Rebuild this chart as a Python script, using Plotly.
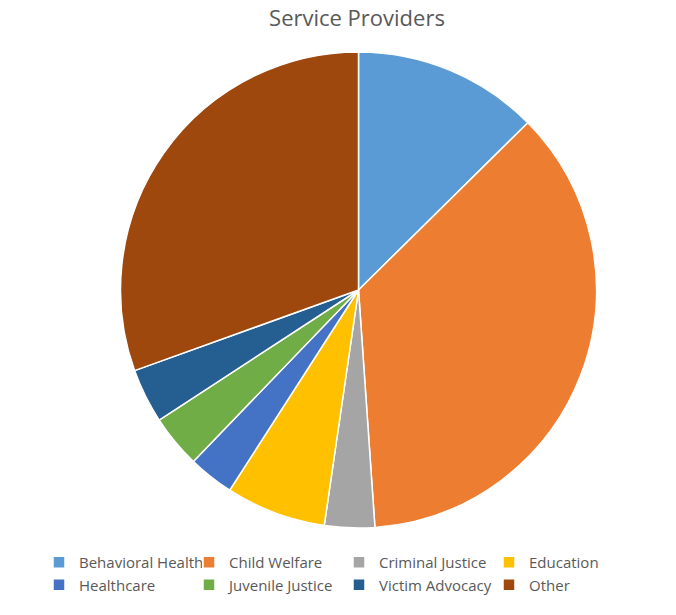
import plotly.graph_objects as go

categories = ["Behavioral Health", "Child Welfare", "Criminal Justice", "Education",
              "Healthcare", "Juvenile Justice", "Victim Advocacy", "Other"]
values = [12.6, 36.3, 3.4, 6.8, 3.1, 3.6, 3.7, 30.5]
colors = ["#5B9BD5", "#ED7D31", "#A5A5A5", "#FFC000",
          "#4472C4", "#70AD47", "#255E91", "#9E480E"]

W, H = 676, 615

fig = go.Figure(go.Pie(
    labels=categories,
    values=values,
    sort=False,
    direction="clockwise",
    rotation=0,
    textinfo="none",
    hoverinfo="label+value",
    marker=dict(colors=colors, line=dict(color="white", width=1.5)),
    domain=dict(x=[120 / W, 597 / W],
                y=[(H - 528) / H, (H - 52) / H]),
))

fig.update_layout(
    width=W, height=H,
    margin=dict(l=0, r=0, t=0, b=0),
    paper_bgcolor="white",
    font=dict(family="Open Sans", color="#595959"),
    title=dict(text="Service Providers", x=357 / W, xanchor="center",
               y=1 - 11 / H, yanchor="top",
               font=dict(size=22, color="#595959")),
    legend=dict(orientation="h", x=39 / W, xanchor="left",
                y=(H - 546) / H, yanchor="top",
                entrywidth=105, entrywidthmode="pixels",
                itemwidth=30,
                font=dict(size=15, color="#595959"),
                traceorder="normal"),
    showlegend=True,
)

fig.write_html("out.html",
               config={"displayModeBar": False},
               post_script="document.body.style.margin='0';document.body.style.overflow='hidden';")
